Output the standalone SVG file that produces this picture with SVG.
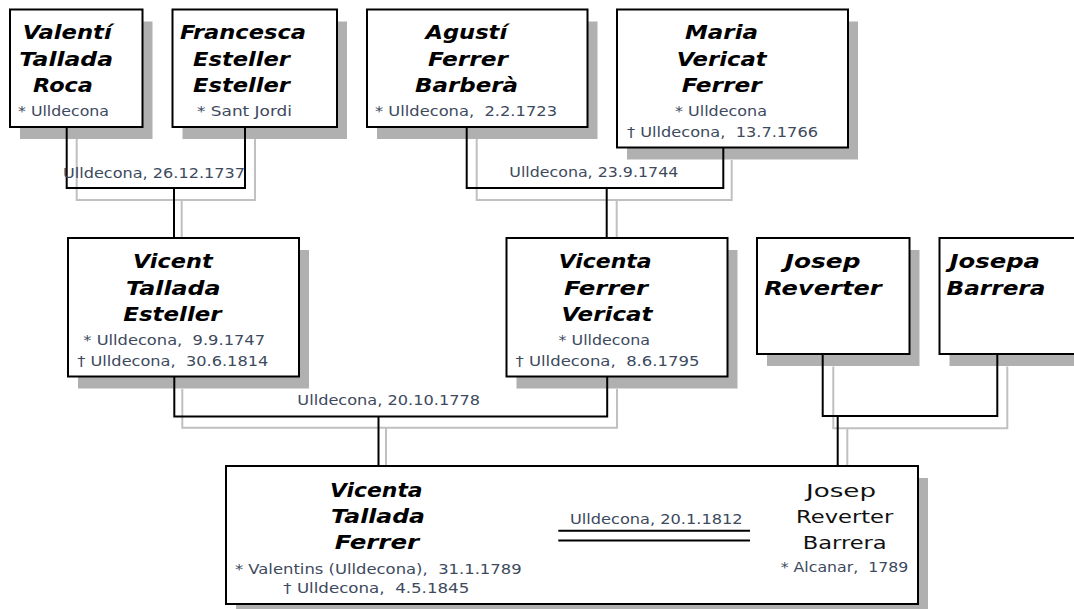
<svg xmlns="http://www.w3.org/2000/svg" width="1074" height="609" viewBox="0 0 1074 609">
<style>
.sh{fill:#b0b0b0}
.box{fill:#fff;stroke:#000;stroke-width:2}
.n{font-family:"DejaVu Sans",Verdana,sans-serif;font-weight:bold;font-style:italic;font-size:19.5px;fill:#000;text-anchor:middle}
.s{font-family:"DejaVu Sans",Verdana,sans-serif;font-size:14px;fill:#3d4a5e;text-anchor:middle}
.r{font-family:"DejaVu Sans",Verdana,sans-serif;font-size:18.5px;fill:#111;text-anchor:middle}
.bl{stroke:#000;stroke-width:2;fill:none}
.gl{stroke:#c0c0c0;stroke-width:2;fill:none}
</style>
<rect width="1074" height="609" fill="#fff"/>
<g id="valenti">
<rect class="sh" x="20" y="21.5" width="132.5" height="117.5"/>
<rect class="box" x="10" y="9.5" width="132.5" height="117.5"/>
<text class="n" x="67.2" y="39" textLength="89" lengthAdjust="spacingAndGlyphs">Valentí</text>
<text class="n" x="66.2" y="65.5" textLength="93.7" lengthAdjust="spacingAndGlyphs">Tallada</text>
<text class="n" x="63" y="92" textLength="60" lengthAdjust="spacingAndGlyphs">Roca</text>
<text class="s" x="63.5" y="116" textLength="91" lengthAdjust="spacingAndGlyphs">* Ulldecona</text>
</g>
<g id="francesca">
<rect class="sh" x="182.5" y="21.5" width="164.5" height="117.5"/>
<rect class="box" x="172.5" y="9.5" width="164.5" height="117.5"/>
<text class="n" x="243" y="39" textLength="126" lengthAdjust="spacingAndGlyphs">Francesca</text>
<text class="n" x="241.5" y="65.5" textLength="97" lengthAdjust="spacingAndGlyphs">Esteller</text>
<text class="n" x="241.5" y="92" textLength="97" lengthAdjust="spacingAndGlyphs">Esteller</text>
<text class="s" x="244.5" y="116" textLength="95" lengthAdjust="spacingAndGlyphs">* Sant Jordi</text>
</g>
<g id="agusti">
<rect class="sh" x="377" y="21.5" width="220.5" height="117.5"/>
<rect class="box" x="367" y="9.5" width="220.5" height="117.5"/>
<text class="n" x="466.3" y="39" textLength="81.7" lengthAdjust="spacingAndGlyphs">Agustí</text>
<text class="n" x="468" y="65.5" textLength="80" lengthAdjust="spacingAndGlyphs">Ferrer</text>
<text class="n" x="466.5" y="92" textLength="103" lengthAdjust="spacingAndGlyphs">Barberà</text>
<text class="s" x="466" y="116" textLength="182" lengthAdjust="spacingAndGlyphs" xml:space="preserve">* Ulldecona,  2.2.1723</text>
</g>
<g id="maria">
<rect class="sh" x="627" y="21.5" width="231" height="138"/>
<rect class="box" x="617" y="9.5" width="231" height="138"/>
<text class="n" x="721.5" y="39" textLength="73" lengthAdjust="spacingAndGlyphs">Maria</text>
<text class="n" x="721.7" y="65.5" textLength="90" lengthAdjust="spacingAndGlyphs">Vericat</text>
<text class="n" x="721.7" y="92" textLength="80" lengthAdjust="spacingAndGlyphs">Ferrer</text>
<text class="s" x="721" y="116" textLength="92" lengthAdjust="spacingAndGlyphs">* Ulldecona</text>
<text class="s" x="722.5" y="137" textLength="191" lengthAdjust="spacingAndGlyphs" xml:space="preserve">† Ulldecona,  13.7.1766</text>
</g>
<g id="vicent">
<rect class="sh" x="78" y="250" width="231" height="138.5"/>
<rect class="box" x="68" y="238" width="231" height="138.5"/>
<text class="n" x="172.8" y="268" textLength="79.7" lengthAdjust="spacingAndGlyphs">Vicent</text>
<text class="n" x="173.3" y="294.5" textLength="94.7" lengthAdjust="spacingAndGlyphs">Tallada</text>
<text class="n" x="172.5" y="321" textLength="98.3" lengthAdjust="spacingAndGlyphs">Esteller</text>
<text class="s" x="174.2" y="345" textLength="181.7" lengthAdjust="spacingAndGlyphs" xml:space="preserve">* Ulldecona,  9.9.1747</text>
<text class="s" x="172.8" y="365.5" textLength="191" lengthAdjust="spacingAndGlyphs" xml:space="preserve">† Ulldecona,  30.6.1814</text>
</g>
<g id="vicenta-ferrer">
<rect class="sh" x="516.5" y="250" width="221" height="138.5"/>
<rect class="box" x="506.5" y="238" width="221" height="138.5"/>
<text class="n" x="605.2" y="268" textLength="93" lengthAdjust="spacingAndGlyphs">Vicenta</text>
<text class="n" x="606" y="294.5" textLength="84" lengthAdjust="spacingAndGlyphs">Ferrer</text>
<text class="n" x="607" y="321" textLength="91" lengthAdjust="spacingAndGlyphs">Vericat</text>
<text class="s" x="604.3" y="345" textLength="91.5" lengthAdjust="spacingAndGlyphs">* Ulldecona</text>
<text class="s" x="607.5" y="365.5" textLength="184" lengthAdjust="spacingAndGlyphs" xml:space="preserve">† Ulldecona,  8.6.1795</text>
</g>
<g id="josep">
<rect class="sh" x="767" y="250" width="152.5" height="116"/>
<rect class="box" x="757" y="238" width="152.5" height="116"/>
<text class="n" x="822.6" y="268" textLength="75.7" lengthAdjust="spacingAndGlyphs">Josep</text>
<text class="n" x="823" y="294.5" textLength="117.5" lengthAdjust="spacingAndGlyphs">Reverter</text>
</g>
<g id="josepa">
<rect class="sh" x="949.5" y="250" width="140" height="116"/>
<rect class="box" x="939.5" y="238" width="140" height="116"/>
<text class="n" x="994.7" y="268" textLength="90.4" lengthAdjust="spacingAndGlyphs">Josepa</text>
<text class="n" x="996" y="294.5" textLength="98.8" lengthAdjust="spacingAndGlyphs">Barrera</text>
</g>
<g id="vicenta-tallada">
<rect class="sh" x="236" y="478" width="692" height="138"/>
<rect class="box" x="226" y="466" width="692" height="138"/>
<text class="n" x="376.3" y="496.7" textLength="92.7" lengthAdjust="spacingAndGlyphs">Vicenta</text>
<text class="n" x="378" y="523.3" textLength="94" lengthAdjust="spacingAndGlyphs">Tallada</text>
<text class="n" x="377" y="549.3" textLength="84.3" lengthAdjust="spacingAndGlyphs">Ferrer</text>
<text class="s" x="378.3" y="574" textLength="286.7" lengthAdjust="spacingAndGlyphs" xml:space="preserve">* Valentins (Ulldecona),  31.1.1789</text>
<text class="s" x="376.3" y="593.3" textLength="186" lengthAdjust="spacingAndGlyphs" xml:space="preserve">† Ulldecona,  4.5.1845</text>
<text class="s" x="656.3" y="524" textLength="172.7" lengthAdjust="spacingAndGlyphs">Ulldecona, 20.1.1812</text>
<path class="bl" d="M558.3,530.7 H750 M558.3,540.5 H750"/>
<text class="r" x="841" y="496.7" textLength="70" lengthAdjust="spacingAndGlyphs">Josep</text>
<text class="r" x="844.7" y="523.3" textLength="97.3" lengthAdjust="spacingAndGlyphs">Reverter</text>
<text class="r" x="844.7" y="549.3" textLength="84" lengthAdjust="spacingAndGlyphs">Barrera</text>
<text class="s" x="844.5" y="571.7" textLength="127.6" lengthAdjust="spacingAndGlyphs" xml:space="preserve">* Alcanar,  1789</text>
</g>
<g id="connectors">
<path class="gl" d="M76.7,139 V200 H255 V139 M181.7,200 V237"/>
<path class="gl" d="M476.7,139 V200 H731.7 V160 M616.7,200 V237"/>
<path class="gl" d="M182.3,389 V427.7 H617 V389 M386,427.7 V465"/>
<path class="gl" d="M833.3,366.5 V428.3 H1007.3 V366.5 M847.3,428.3 V465"/>
<path class="bl" d="M66.7,127 V188 H245 V127 M174,188 V237"/>
<path class="bl" d="M466.7,127 V188 H723.3 V148 M606.7,188 V237"/>
<path class="bl" d="M174.3,377 V416.5 H607.2 V377 M378.5,416.5 V465"/>
<path class="bl" d="M822.7,354.5 V416 H997.3 V354.5 M837.7,416 V465"/>
<text class="s" x="154" y="178" textLength="182" lengthAdjust="spacingAndGlyphs">Ulldecona, 26.12.1737</text>
<text class="s" x="593.8" y="176.7" textLength="169" lengthAdjust="spacingAndGlyphs">Ulldecona, 23.9.1744</text>
<text class="s" x="388.7" y="405" textLength="182.7" lengthAdjust="spacingAndGlyphs">Ulldecona, 20.10.1778</text>
</g>
</svg>
